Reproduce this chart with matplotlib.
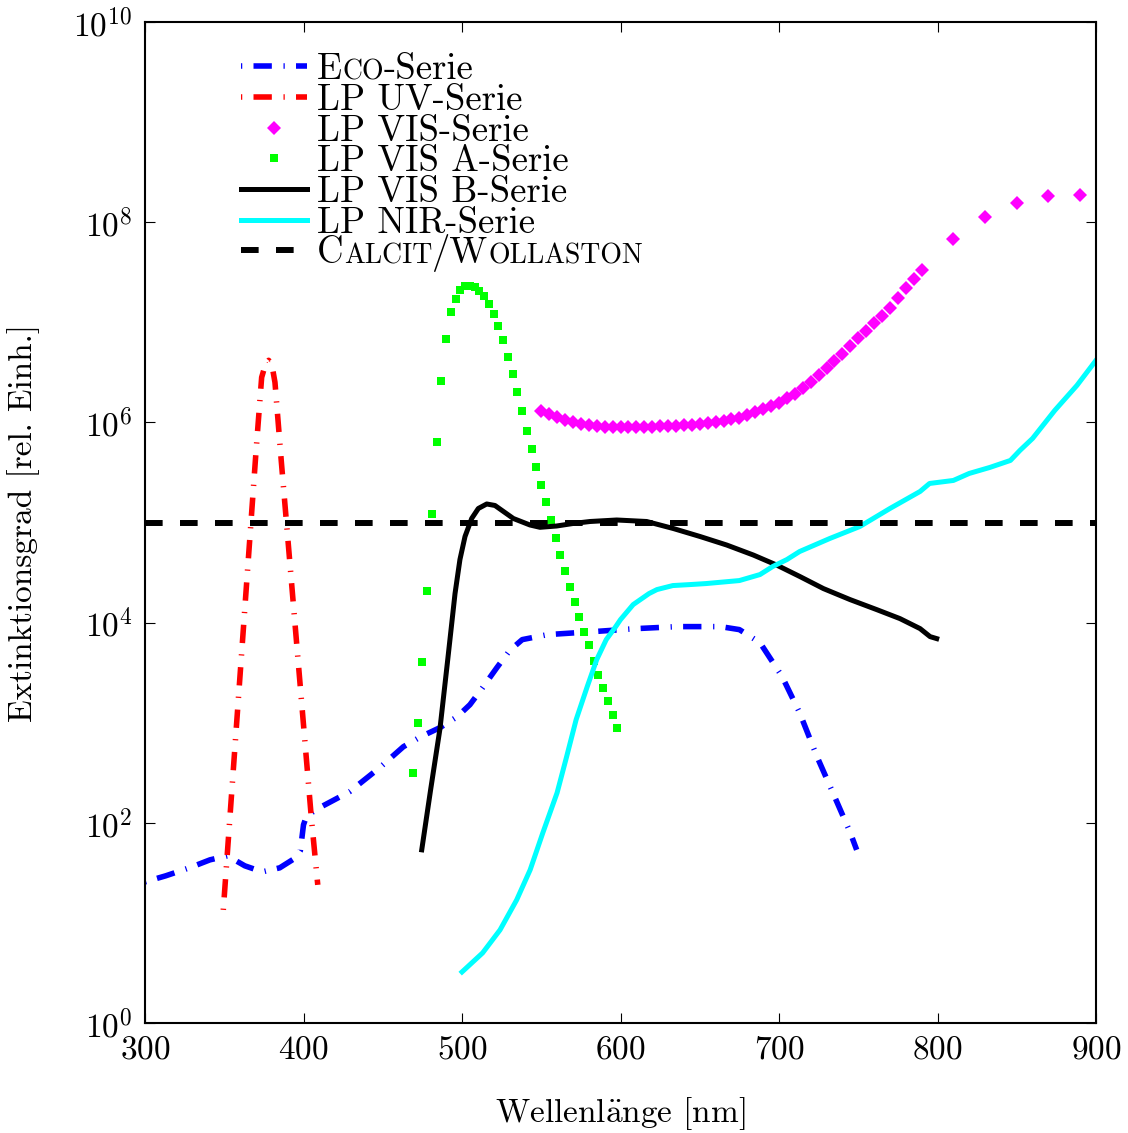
import numpy as np
import matplotlib
matplotlib.use("Agg")
import matplotlib.pyplot as plt
from matplotlib.ticker import NullLocator, FixedLocator, FixedFormatter
from matplotlib.transforms import Affine2D

plt.rcParams['font.family'] = ['cmr10', 'DejaVu Serif']
plt.rcParams['mathtext.fontset'] = 'cm'
plt.rcParams['axes.unicode_minus'] = False
plt.rcParams['axes.formatter.use_mathtext'] = True
plt.rcParams['lines.scale_dashes'] = False

# ---------------- data (wavelength in nm, extinction as decades) ----------------
eco_wl = [300, 313, 328, 341, 352, 363, 374, 385, 395, 398, 400, 402, 410, 429, 448,
          463, 474, 486, 497, 505, 513, 522, 530, 538, 554, 583, 610, 636, 663, 675,
          688, 702, 713, 724, 734, 745, 749]
eco_exp = [1.41, 1.47, 1.55, 1.63, 1.67, 1.57, 1.51, 1.55, 1.65, 1.72, 1.98, 2.07, 2.15,
           2.31, 2.55, 2.76, 2.86, 2.95, 3.06, 3.18, 3.35, 3.55, 3.72, 3.83, 3.88, 3.91,
           3.94, 3.96, 3.96, 3.93, 3.80, 3.46, 3.10, 2.66, 2.30, 1.90, 1.73]

uv_wl = [349.4, 355, 360, 365, 370, 373.6, 376, 378, 380, 382, 386, 390, 395, 400, 405, 409]
uv_exp = [1.13, 2.37, 3.48, 4.59, 5.70, 6.45, 6.58, 6.62, 6.58, 6.40, 5.61, 4.86, 3.92,
          2.98, 2.04, 1.38]

vis_wl = [550, 555, 560, 565, 570, 575, 580, 585, 590, 595, 600, 605, 610, 615, 620,
          625, 630, 635, 640, 645, 650, 655, 660, 665, 670, 675, 680, 685, 690, 695,
          700, 705, 710, 715, 720, 725, 730, 735, 740, 745, 750, 755, 760, 765, 770,
          775, 780, 785, 790, 810, 830, 850, 870, 890]
vis_exp = [6.11, 6.08, 6.05, 6.02, 6.00, 5.98, 5.97, 5.96, 5.955, 5.95, 5.95, 5.95, 5.95,
           5.95, 5.955, 5.96, 5.96, 5.965, 5.97, 5.975, 5.98, 5.99, 6.00, 6.015, 6.03,
           6.045, 6.07, 6.10, 6.13, 6.16, 6.19, 6.24, 6.28, 6.34, 6.40, 6.47, 6.54,
           6.61, 6.68, 6.76, 6.84, 6.91, 6.99, 7.06, 7.14, 7.24, 7.34, 7.43, 7.52,
           7.83, 8.05, 8.19, 8.26, 8.27]

visa_wl = [469, 472, 475, 478, 481, 484, 487, 490, 493, 496, 499, 502, 505, 508, 511,
           514, 517, 520, 523, 526, 529, 532, 535, 538, 541, 544, 547, 550, 553, 556,
           559, 562, 565, 568, 571, 574, 577, 580, 583, 586, 589, 592, 595, 598]
visa_exp = [2.50, 3.00, 3.61, 4.32, 5.08, 5.80, 6.41, 6.83, 7.10, 7.23, 7.32, 7.36, 7.36,
            7.35, 7.31, 7.26, 7.18, 7.08, 6.96, 6.82, 6.65, 6.48, 6.30, 6.11, 5.91,
            5.73, 5.55, 5.37, 5.20, 5.02, 4.85, 4.68, 4.52, 4.36, 4.21, 4.06, 3.91,
            3.78, 3.62, 3.48, 3.35, 3.22, 3.08, 2.95]

visb_wl = [474.6, 480.2, 486.1, 491.0, 495.6, 498.7, 501.9, 506.1, 510.3, 515.6, 520.8,
           532.4, 542.9, 549.2, 559.7, 570.0, 580.8, 597.6, 616.5, 633.3, 650.2, 667.0,
           683.8, 698.5, 713.2, 728.0, 744.8, 761.6, 776.3, 789.0, 795.3, 799.5]
visb_exp = [1.73, 2.33, 2.94, 3.63, 4.29, 4.63, 4.86, 5.04, 5.14, 5.185, 5.17, 5.04,
            4.975, 4.952, 4.965, 4.99, 5.01, 5.025, 5.01, 4.94, 4.86, 4.775, 4.675,
            4.575, 4.46, 4.34, 4.23, 4.13, 4.04, 3.94, 3.86, 3.84]

nir_wl = [500, 513, 524, 534.5, 543, 551, 560, 566, 572, 579, 585, 591, 597, 600, 608,
          618, 623, 633, 644, 654, 675, 688, 696, 705, 713, 732, 751, 770, 789, 795,
          810, 820, 833, 846, 852, 860, 874, 888, 900]
nir_exp = [0.51, 0.70, 0.93, 1.23, 1.53, 1.90, 2.30, 2.66, 3.03, 3.36, 3.63, 3.83, 3.96,
           4.03, 4.18, 4.29, 4.33, 4.37, 4.38, 4.39, 4.42, 4.48, 4.56, 4.63, 4.71,
           4.84, 4.96, 5.14, 5.31, 5.39, 5.42, 5.49, 5.55, 5.62, 5.72, 5.84, 6.12,
           6.37, 6.62]

calcit_level = 1e5

xticks = [300, 400, 500, 600, 700, 800, 900]
yticks = [1e0, 1e2, 1e4, 1e6, 1e8, 1e10]
ytick_labels = [r'$10^{0}$', r'$10^{2}$', r'$10^{4}$', r'$10^{6}$', r'$10^{8}$', r'$10^{10}$']

FS = 24
LFS = 26.5
SMALL = 20

fig = plt.figure(figsize=(11.28, 11.33), dpi=100)
ax = fig.add_axes([145 / 1128, 1 - 1023 / 1133, 951 / 1128, 1001 / 1133])

dashdot = (0, (0.9, 8.1, 13.2, 8.4))
l_eco, = ax.plot(eco_wl, 10 ** np.array(eco_exp), color='#0000ff', lw=4.0,
                 linestyle=dashdot, dash_capstyle='butt', label='E')
l_uv, = ax.plot(uv_wl, 10 ** np.array(uv_exp), color='#ff0000', lw=4.0,
                linestyle=dashdot, dash_capstyle='butt', label='LP UV-Serie')
l_vis, = ax.plot(vis_wl, 10 ** np.array(vis_exp), linestyle='none', marker='D',
                 ms=7.3, mew=0, color='#ff00ff', label='LP VIS-Serie')
l_visa, = ax.plot(visa_wl, 10 ** np.array(visa_exp), linestyle='none', marker='s',
                  ms=5.6, mew=0, color='#00ff00', label='LP VIS A-Serie')
l_visb, = ax.plot(visb_wl, 10 ** np.array(visb_exp), color='black', lw=3.6,
                  label='LP VIS B-Serie')
l_nir, = ax.plot(nir_wl, 10 ** np.array(nir_exp), color='#00ffff', lw=3.6,
                 label='LP NIR-Serie')
l_cal = ax.axhline(calcit_level, color='black', lw=4.3,
                   linestyle=(0, (12.7, 12.5)), dash_capstyle='butt', label='C')

ax.set_yscale('log')
ax.set_xlim(300, 900)
ax.set_ylim(1e0, 1e10)
ax.xaxis.set_major_locator(FixedLocator(xticks))
ax.yaxis.set_major_locator(FixedLocator(yticks))
ax.yaxis.set_major_formatter(FixedFormatter(ytick_labels))
ax.yaxis.set_minor_locator(NullLocator())
ax.xaxis.set_minor_locator(NullLocator())
ax.tick_params(direction='in', top=True, right=True, length=7, width=0.8,
               labelsize=FS, pad=9)
for s in ax.spines.values():
    s.set_linewidth(1.5)

ax.set_xlabel(r'Wellenl$\ddot{\rm a}$nge [nm]', fontsize=FS, labelpad=22)
ax.set_ylabel('Extinktionsgrad [rel. Einh.]', fontsize=FS, labelpad=24)

leg = ax.legend(handles=[l_eco, l_uv, l_vis, l_visa, l_visb, l_nir, l_cal],
                loc='upper left', bbox_to_anchor=(0.101, 0.969), frameon=False,
                fontsize=LFS, handlelength=1.8, handletextpad=0.27,
                labelspacing=-0.07, borderpad=0, borderaxespad=0, numpoints=1)


def baseline_coords(prev, base):
    """Place the next piece right after `prev`, on the baseline of `base`."""
    def f(renderer):
        bb_prev = prev.get_window_extent(renderer)
        bb_base = base.get_window_extent(renderer)
        _, _, d_lp = renderer.get_text_width_height_descent(
            'lp', base.get_fontproperties(), ismath=False)
        _, _, d_t = renderer.get_text_width_height_descent(
            base.get_text(), base.get_fontproperties(), ismath=False)
        return Affine2D().translate(bb_prev.x1, bb_base.y0 + max(d_lp, d_t))
    return f


def chain(base, parts):
    prev = base
    for s, size in parts:
        prev = ax.annotate(s, xy=(0, 0), xycoords=baseline_coords(prev, base),
                           va='baseline', ha='left', fontsize=size,
                           annotation_clip=False, zorder=10)


texts = leg.get_texts()
chain(texts[0], [('CO', SMALL), ('-Serie', LFS)])
chain(texts[6], [('ALCIT', SMALL), ('/W', LFS), ('OLLASTON', SMALL)])

fig.savefig('out.png', dpi=100)
